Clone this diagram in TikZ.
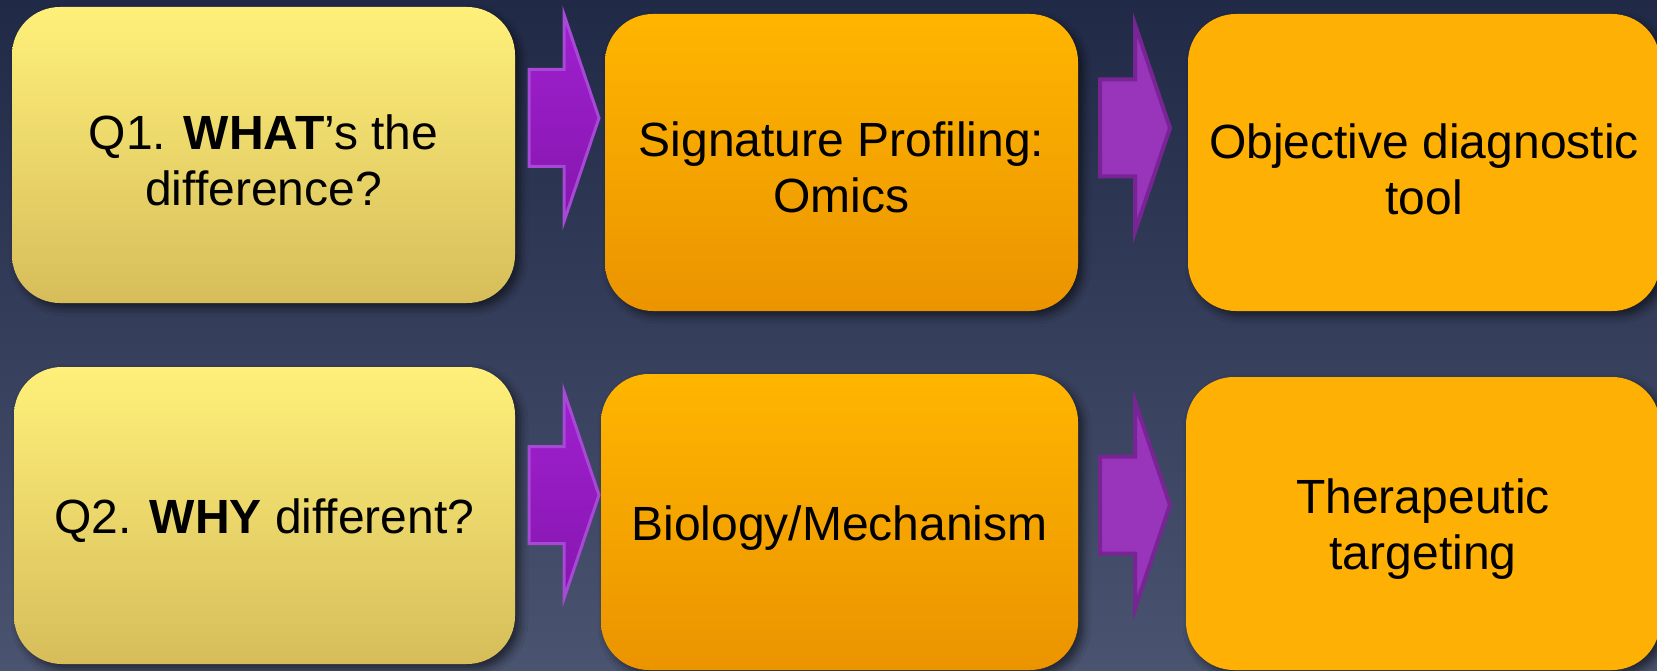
\documentclass[tikz,border=0pt]{standalone}
\usepackage{fontspec}
\setmainfont{Liberation Sans}
\usetikzlibrary{shadows.blur}

\definecolor{bgtop}{HTML}{202946}
\definecolor{bgbottom}{HTML}{4A536F}
\definecolor{qtop}{HTML}{FFF07A}
\definecolor{qbottom}{HTML}{D6BD5A}
\definecolor{otop}{HTML}{FFB500}
\definecolor{obottom}{HTML}{EB9400}
\definecolor{oflat}{HTML}{FFB005}
\definecolor{arrAfill}{HTML}{A020D0}
\definecolor{arrAfill2}{HTML}{8616AE}
\definecolor{arrAline}{HTML}{A748D6}
\definecolor{arrBfill}{HTML}{9935BB}
\definecolor{arrBline}{HTML}{782494}

\tikzset{
  card/.style={rounded corners=48pt, inner sep=0pt,
    blur shadow={shadow xshift=5pt, shadow yshift=-5pt,
                 shadow blur radius=8pt, shadow opacity=55}},
  question/.style={card, top color=qtop, bottom color=qbottom},
  method/.style={card, top color=otop, bottom color=obottom},
  outcome/.style={card, fill=oflat},
  cardtext/.style={align=center, inner sep=0pt, text=black,
    font=\fontsize{48}{56}\selectfont},
  arrowA/.style={left color=arrAfill, right color=arrAfill2, shading angle=0,
    draw=arrAline, line width=3pt, line join=miter},
  arrowB/.style={fill=arrBfill, draw=arrBline, line width=4pt, line join=miter},
  pics/blockarrow/.style={code={
    \path[#1] (0,-48.5) -- (35,-48.5) -- (35,-103.5) -- (70,0)
      -- (35,103.5) -- (35,48.5) -- (0,48.5) -- cycle;
  }}
}

\begin{document}
\begin{tikzpicture}[x=1pt, y=-1pt]
  % canvas
  \useasboundingbox (0,0) rectangle (1657,671);
  \clip (0,0) rectangle (1657,671);
  \shade[top color=bgtop, bottom color=bgbottom] (0,0) rectangle (1657,671);

  % first row
  \node[question, minimum width=503pt, minimum height=296pt] (q1) at (263.5,155) {};
  \node[method, minimum width=473pt, minimum height=297pt] (sig) at (841.5,162.5) {};
  \node[outcome, minimum width=472pt, minimum height=297pt] (diag) at (1424,162.5) {};

  % second row
  \node[question, minimum width=501pt, minimum height=297pt] (q2) at (264.5,515.5) {};
  \node[method, minimum width=477pt, minimum height=296pt] (bio) at (839.5,522) {};
  \node[outcome, minimum width=474pt, minimum height=293pt] (ther) at (1423,523.5) {};

  % card texts, set a little below each card's centre
  \node[cardtext] (q1t)   at ([yshift=-5pt]q1.center)   {Q1. \textbf{WHAT}’s the\\difference?};
  \node[cardtext] (sigt)  at ([yshift=-5pt]sig.center)  {Signature Profiling:\\Omics};
  \node[cardtext] (diagt) at ([yshift=-7pt]diag.center) {Objective diagnostic\\tool};
  \node[cardtext] (q2t)   at ([yshift=-5pt]q2.center)   {Q2. \textbf{WHY} different?};
  \node[cardtext] (biot)  at ([yshift=-6pt]bio.center)  {Biology/Mechanism};
  \node[cardtext] (thert) at ([yshift=-6pt]ther.center) {Therapeutic\\targeting};

  % block arrows between the cards
  \pic at (529,118)  {blockarrow=arrowA};
  \pic at (1100,128) {blockarrow=arrowB};
  \pic at (529,495)  {blockarrow=arrowA};
  \pic at (1100,505) {blockarrow=arrowB};
\end{tikzpicture}
\end{document}
